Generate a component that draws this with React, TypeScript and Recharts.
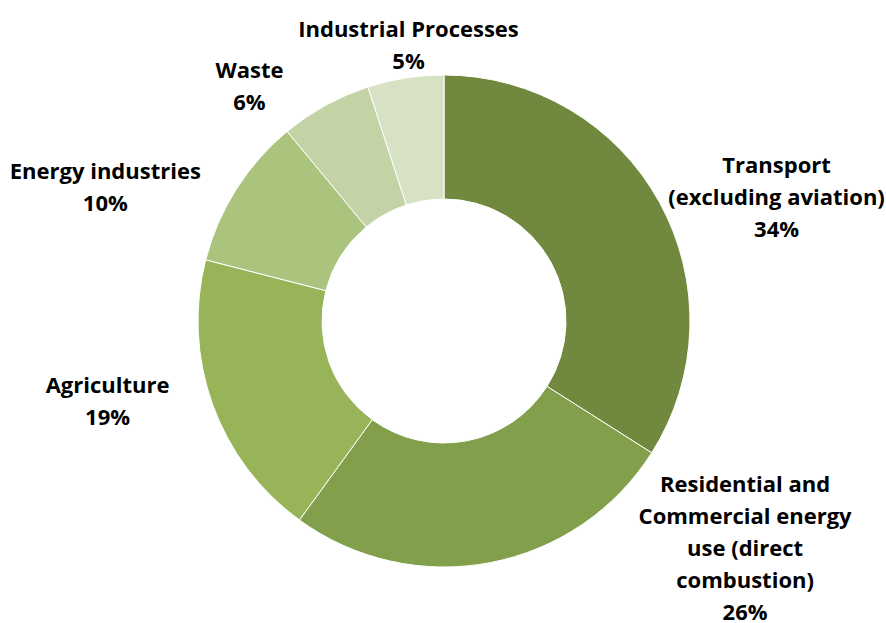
import { PieChart, Pie, Cell } from 'recharts';

const categories = [
  'Transport\n(excluding aviation)',
  'Residential and\nCommercial energy\nuse (direct\ncombustion)',
  'Agriculture',
  'Energy industries',
  'Waste',
  'Industrial Processes',
];
const shares = [34, 26, 19, 10, 6, 5];
const COLORS = ['#71893f', '#82a04b', '#98b459', '#aac47d', '#c3d3a6', '#d7e2c4'];

// label block offsets from the outer edge at each slice's mid angle
const LABEL_OFFSETS = [
  [117, -6],
  [255, -16],
  [-105, -4],
  [-131, -3],
  [-76, -20],
  [3, -34],
];

const data = categories.map((name, i) => ({ name, value: shares[i] }));

const RAD = Math.PI / 180;
const LINE_H = 32;

function renderLabel(props: any) {
  const { cx, cy, midAngle, outerRadius, index } = props;
  const px = cx + outerRadius * Math.cos(-midAngle * RAD);
  const py = cy + outerRadius * Math.sin(-midAngle * RAD);
  const [dx, dy] = LABEL_OFFSETS[index];
  const x = px + dx;
  const y = py + dy;
  const lines = [...categories[index].split('\n'), `${shares[index]}%`];
  const top = y - ((lines.length - 1) * LINE_H) / 2;
  return (
    <text
      key={`label-${index}`}
      x={x}
      y={top}
      textAnchor="middle"
      dominantBaseline="central"
      fill="#000"
      fontFamily="'Open Sans', sans-serif"
      fontWeight={700}
      fontSize={22}
    >
      {lines.map((line, i) => (
        <tspan key={i} x={x} y={top + i * LINE_H}>
          {line}
        </tspan>
      ))}
    </text>
  );
}

export default function App() {
  return (
    <div style={{ position: 'absolute', left: 0, top: 0, width: 886, height: 623, background: '#fff' }}>
      <PieChart width={886} height={623} margin={{ top: 0, right: 0, bottom: 0, left: 0 }}>
        <Pie
          data={data}
          dataKey="value"
          cx={444}
          cy={321}
          innerRadius={122}
          outerRadius={246}
          startAngle={90}
          endAngle={-270}
          stroke="#fff"
          strokeWidth={1}
          label={renderLabel}
          labelLine={false}
          isAnimationActive={false}
        >
          {data.map((entry, index) => (
            <Cell key={`cell-${index}`} fill={COLORS[index]} />
          ))}
        </Pie>
      </PieChart>
    </div>
  );
}
